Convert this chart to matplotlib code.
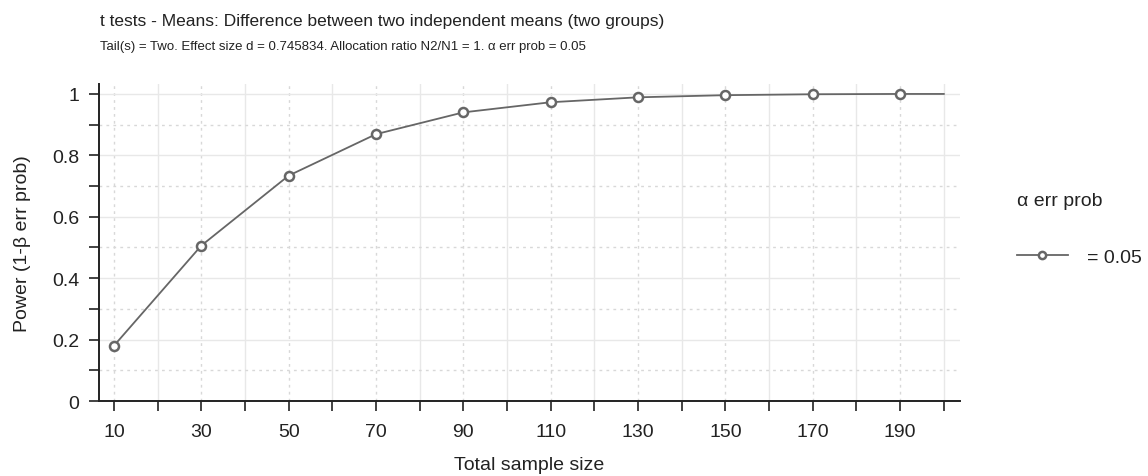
import numpy as np
import matplotlib.pyplot as plt
from matplotlib import font_manager
from matplotlib.ticker import FixedLocator

# Power curve values
sample_size = [10, 30, 50, 70, 90, 110, 130, 150, 170, 190, 200]
power = [0.180, 0.506, 0.734, 0.869, 0.940, 0.973, 0.989, 0.996, 0.999, 1.0, 1.0]
marker_every = list(range(10))  # last point (200) has no marker

x_labels = [10, 30, 50, 70, 90, 110, 130, 150, 170, 190]
y_major = [0, 0.2, 0.4, 0.6, 0.8, 1.0]
y_labels = ['0', '0.2', '0.4', '0.6', '0.8', '1']

title = "t tests - Means: Difference between two independent means (two groups)"
subtitle = "Tail(s) = Two. Effect size d = 0.745834. Allocation ratio N2/N1 = 1. \u03b1 err prob = 0.05"

plt.rcParams['font.family'] = ['Liberation Sans', 'DejaVu Sans']

# narrow face for the header lines, if it is installed
names = {f.name for f in font_manager.fontManager.ttflist}
if 'Liberation Sans Narrow' in names:
    head_font, head_scale = ['Liberation Sans Narrow', 'DejaVu Sans'], 1.2
else:
    head_font, head_scale = ['Liberation Sans', 'DejaVu Sans'], 1.0

fig = plt.figure(figsize=(11.48, 4.77), dpi=100)
ax = fig.add_axes([0.0862, 0.1572, 0.75, 0.665])

line_col = '#666666'
ax.plot(sample_size, power, color=line_col, lw=1.3, marker='o', markevery=marker_every,
        markersize=6.5, markerfacecolor='white', markeredgecolor=line_col, markeredgewidth=1.8,
        label='= 0.05', zorder=3)

ax.set_xlim(6.57, 203.7)
ax.set_ylim(0, 1.033)

ax.xaxis.set_major_locator(FixedLocator(x_labels))
ax.xaxis.set_minor_locator(FixedLocator(range(20, 201, 20)))
ax.yaxis.set_major_locator(FixedLocator(y_major))
ax.yaxis.set_minor_locator(FixedLocator([0.1, 0.3, 0.5, 0.7, 0.9]))
ax.set_yticklabels(y_labels)

ax.grid(which='major', axis='x', color='#d8d8d8', ls=(0, (2, 3)), lw=1.0)
ax.grid(which='minor', axis='x', color='#e8e8e8', ls='-', lw=1.0)
ax.grid(which='major', axis='y', color='#e8e8e8', ls='-', lw=1.0)
ax.grid(which='minor', axis='y', color='#d8d8d8', ls=(0, (2, 3)), lw=1.0)
ax.set_axisbelow(True)

for side in ['top', 'right']:
    ax.spines[side].set_visible(False)
for side in ['left', 'bottom']:
    ax.spines[side].set_linewidth(1.4)
    ax.spines[side].set_color('#222222')

ax.tick_params(which='both', direction='out', length=7, width=1.2, color='#222222',
               labelsize=14, labelcolor='#222222', pad=7)
ax.tick_params(axis='x', which='major', pad=9)

ax.set_xlabel('Total sample size', fontsize=14, color='#222222', labelpad=11)
ax.set_ylabel('Power (1-\u03b2 err prob)', fontsize=14, color='#222222', labelpad=15)

fig.text(0.0871, 0.955, title, fontsize=12.5 * head_scale, family=head_font,
         color='#222222', va='center', ha='left')
fig.text(0.0871, 0.902, subtitle, fontsize=9.5 * head_scale, family=head_font,
         color='#222222', va='center', ha='left')

leg = ax.legend(loc='upper left', bbox_to_anchor=(0.886, 0.595), bbox_transform=fig.transFigure,
                frameon=False, title='\u03b1 err prob', fontsize=14, title_fontsize=14,
                handlelength=2.6, handletextpad=1.0, borderaxespad=0, borderpad=0,
                labelspacing=0.8, markerscale=0.8)
leg._legend_box.align = 'left'
leg._legend_box.sep = 28
leg.get_title().set_color('#222222')
for t in leg.get_texts():
    t.set_color('#222222')

fig.savefig('out.png', dpi=100)
